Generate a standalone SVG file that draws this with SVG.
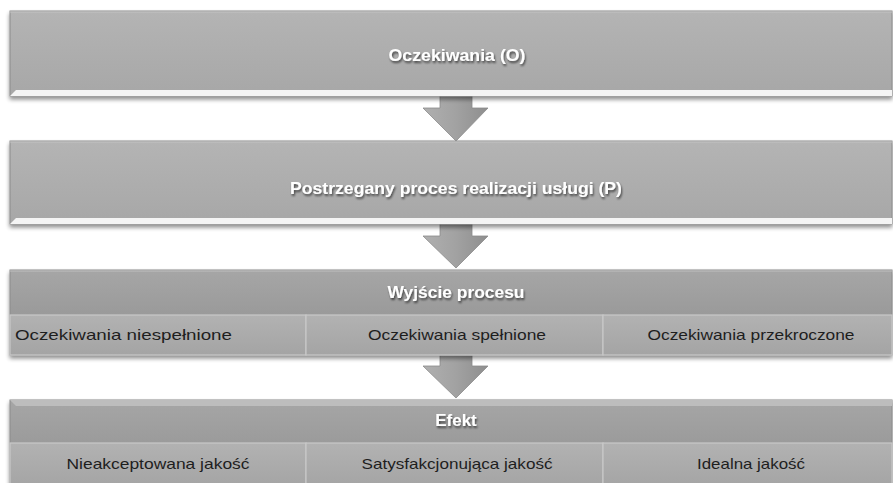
<svg xmlns="http://www.w3.org/2000/svg" width="893" height="483" viewBox="0 0 893 483">
<defs>
<linearGradient id="gBox" x1="0" y1="0" x2="0" y2="1">
<stop offset="0" stop-color="#b4b4b4"/><stop offset="1" stop-color="#a7a7a7"/>
</linearGradient>
<linearGradient id="gHead" x1="0" y1="0" x2="0" y2="1">
<stop offset="0" stop-color="#a6a6a6"/><stop offset="1" stop-color="#8f8f8f"/>
</linearGradient>
<linearGradient id="gSub" x1="0" y1="0" x2="0" y2="1">
<stop offset="0" stop-color="#b2b2b2"/><stop offset="1" stop-color="#a4a4a4"/>
</linearGradient>
<linearGradient id="gArr" x1="0" y1="0" x2="1" y2="0">
<stop offset="0" stop-color="#b0b0b0"/><stop offset="0.5" stop-color="#a2a2a2"/><stop offset="1" stop-color="#8e8e8e"/>
</linearGradient>
<filter id="sh" x="-5%" y="-20%" width="110%" height="150%">
<feGaussianBlur in="SourceAlpha" stdDeviation="2"/>
<feOffset dx="0" dy="3"/>
<feComponentTransfer><feFuncA type="linear" slope="0.45"/></feComponentTransfer>
<feMerge><feMergeNode/><feMergeNode in="SourceGraphic"/></feMerge>
</filter>
<filter id="ts" x="-10%" y="-30%" width="120%" height="160%">
<feGaussianBlur in="SourceAlpha" stdDeviation="1"/>
<feOffset dx="1" dy="1.5"/>
<feComponentTransfer><feFuncA type="linear" slope="0.6"/></feComponentTransfer>
<feMerge><feMergeNode/><feMergeNode in="SourceGraphic"/></feMerge>
</filter>
</defs>
<style>
.box{stroke:#8c8c8c;stroke-width:1}
.hi{fill:#f4f4f4}
.cell{fill:url(#gSub);stroke:#c8c8c8;stroke-width:1.2}
.wt{font-family:"Liberation Sans",Arial,sans-serif;font-size:17px;font-weight:bold;fill:#ffffff;text-anchor:middle;dominant-baseline:central}
.dt{font-family:"Liberation Sans",Arial,sans-serif;font-size:15px;fill:#1e1e1e;dominant-baseline:central}
.arr{fill:url(#gArr);stroke:#8a8a8a;stroke-width:0.8}
</style>
<rect width="893" height="483" fill="#ffffff"/>

<g id="connectors">
<path class="arr" d="M440,94 H472 V108 H488 L456,141 L423,108 H440 Z"/>
<path class="arr" d="M440,222 H472 V236 H488 L456,268 L423,236 H440 Z"/>
<path class="arr" d="M440,353 H472 V366 H488 L456,398 L423,366 H440 Z"/>
</g>

<g id="node-oczekiwania">
<g filter="url(#sh)">
<rect class="box" x="10" y="11" width="882" height="85" fill="url(#gBox)"/>
</g>
<polygon class="hi" points="10,96 16,90 892,90 892,96"/>
<line x1="10" y1="12" x2="892" y2="12" stroke="#c4c4c4"/>
<text class="wt" x="457" y="55" filter="url(#ts)" textLength="137" lengthAdjust="spacingAndGlyphs">Oczekiwania (O)</text>
</g>

<g id="node-proces">
<g filter="url(#sh)">
<rect class="box" x="10" y="141" width="882" height="83" fill="url(#gBox)"/>
</g>
<polygon class="hi" points="10,224 16,218 892,218 892,224"/>
<line x1="10" y1="142" x2="892" y2="142" stroke="#c4c4c4"/>
<text class="wt" x="456" y="188" filter="url(#ts)" textLength="332" lengthAdjust="spacingAndGlyphs">Postrzegany proces realizacji usługi (P)</text>
</g>

<g id="node-wyjscie">
<g filter="url(#sh)">
<rect class="box" x="10" y="270" width="882" height="85" fill="url(#gHead)"/>
</g>
<line x1="10" y1="271" x2="892" y2="271" stroke="#c0c0c0"/>
<text class="wt" x="456" y="292" filter="url(#ts)" textLength="137" lengthAdjust="spacingAndGlyphs">Wyjście procesu</text>
<rect class="cell" x="10" y="315" width="296" height="40"/>
<rect class="cell" x="306" y="315" width="297" height="40"/>
<rect class="cell" x="603" y="315" width="289" height="40"/>
<text class="dt" x="15" y="334" textLength="217" lengthAdjust="spacingAndGlyphs">Oczekiwania niespełnione</text>
<text class="dt" x="457" y="334" text-anchor="middle" textLength="178" lengthAdjust="spacingAndGlyphs">Oczekiwania spełnione</text>
<text class="dt" x="751" y="334" text-anchor="middle" textLength="207" lengthAdjust="spacingAndGlyphs">Oczekiwania przekroczone</text>
</g>

<g id="node-efekt">
<g filter="url(#sh)">
<rect class="box" x="10" y="400" width="882" height="90" fill="url(#gHead)"/>
</g>
<polygon points="10,400 16,406 892,406 892,400" fill="#bdbdbd"/>
<text class="wt" x="456" y="420" filter="url(#ts)">Efekt</text>
<rect class="cell" x="10" y="443" width="296" height="45"/>
<rect class="cell" x="306" y="443" width="297" height="45"/>
<rect class="cell" x="603" y="443" width="289" height="45"/>
<text class="dt" x="158" y="463" text-anchor="middle" textLength="183" lengthAdjust="spacingAndGlyphs">Nieakceptowana jakość</text>
<text class="dt" x="457" y="463" text-anchor="middle" textLength="191" lengthAdjust="spacingAndGlyphs">Satysfakcjonująca jakość</text>
<text class="dt" x="751" y="463" text-anchor="middle" textLength="108" lengthAdjust="spacingAndGlyphs">Idealna jakość</text>
</g>
</svg>
